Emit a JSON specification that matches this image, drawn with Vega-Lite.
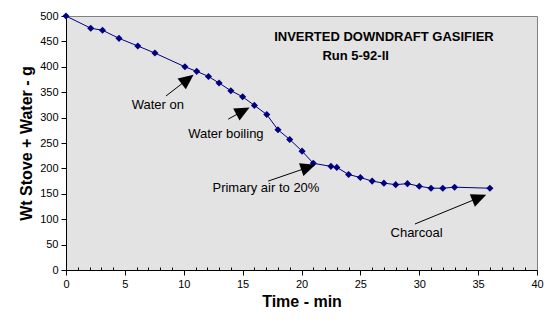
{
  "$schema": "https://vega.github.io/schema/vega-lite/v6.json",
  "width": 471,
  "height": 254,
  "autosize": {"type": "none"},
  "padding": {"left": 66, "top": 16, "right": 19, "bottom": 52},
  "background": "white",
  "config": {
    "font": "Liberation Sans",
    "view": {"fill": "#e3e3e3", "stroke": "#808080", "strokeWidth": 1}
  },
  "datasets": {
    "series": [
      {"t": 0, "w": 500}, {"t": 2.1, "w": 476}, {"t": 3.1, "w": 472}, {"t": 4.5, "w": 456},
      {"t": 6.1, "w": 441}, {"t": 7.55, "w": 427}, {"t": 10.1, "w": 400}, {"t": 11.1, "w": 391},
      {"t": 12.1, "w": 381}, {"t": 13, "w": 368}, {"t": 14, "w": 353}, {"t": 15, "w": 341},
      {"t": 16, "w": 324}, {"t": 17.05, "w": 306}, {"t": 18, "w": 276}, {"t": 19, "w": 257},
      {"t": 20.05, "w": 234}, {"t": 21, "w": 210}, {"t": 22.5, "w": 204}, {"t": 23, "w": 202},
      {"t": 24, "w": 188}, {"t": 25, "w": 182}, {"t": 26, "w": 175}, {"t": 27, "w": 171},
      {"t": 28, "w": 168}, {"t": 29, "w": 170}, {"t": 30, "w": 165}, {"t": 31, "w": 161},
      {"t": 32, "w": 161}, {"t": 33, "w": 163}, {"t": 36, "w": 161}
    ],
    "notes": [
      {"label": "Water on", "tx": 7.8, "ty": 325, "x1": 8.49, "y1": 342.5, "x2": 10.33, "y2": 375.4, "angle": 52.4},
      {"label": "Water boiling", "tx": 13.58, "ty": 268, "x1": 13.78, "y1": 297, "x2": 15.03, "y2": 313, "angle": 61.7},
      {"label": "Primary air to 20%", "tx": 16.98, "ty": 161, "x1": 17.17, "y1": 175, "x2": 20.58, "y2": 202.2, "angle": 71.1},
      {"label": "Charcoal", "tx": 29.77, "ty": 72.8, "x1": 29.63, "y1": 90.5, "x2": 35.1, "y2": 142.5, "angle": 67.8}
    ],
    "titles": [
      {"label": "INVERTED DOWNDRAFT GASIFIER", "tx": 27.0, "ty": 458.7},
      {"label": "Run 5-92-II", "tx": 24.6, "ty": 421}
    ]
  },
  "encoding": {
    "x": {
      "type": "quantitative",
      "scale": {"domain": [0, 40], "nice": false, "zero": false},
      "axis": {
        "title": "Time - min",
        "values": [0,1,2,3,4,5,6,7,8,9,10,11,12,13,14,15,16,17,18,19,20,21,22,23,24,25,26,27,28,29,30,31,32,33,34,35,36,37,38,39,40],
        "labelExpr": "datum.value % 5 === 0 ? datum.label : ''",
        "tickSize": {"condition": {"test": "datum.value % 5 === 0", "value": 5}, "value": -3},
        "grid": false,
        "domainColor": "black",
        "tickColor": "black",
        "labelColor": "black",
        "labelFontSize": 11,
        "labelPadding": 3,
        "labelFlush": false,
        "labelOverlap": false,
        "titleFontSize": 16,
        "titleFontWeight": "bold",
        "titleColor": "black",
        "titlePadding": 4
      }
    },
    "y": {
      "type": "quantitative",
      "scale": {"domain": [0, 500], "nice": false},
      "axis": {
        "title": "Wt Stove + Water - g",
        "values": [0,50,100,150,200,250,300,350,400,450,500],
        "grid": false,
        "domainColor": "black",
        "tickColor": "black",
        "tickSize": 5,
        "labelColor": "black",
        "labelFontSize": 11,
        "labelPadding": 3,
        "labelFlush": false,
        "labelOverlap": false,
        "titleFontSize": 16,
        "titleFontWeight": "bold",
        "titleColor": "black",
        "titlePadding": 5
      }
    }
  },
  "layer": [
    {
      "data": {"name": "series"},
      "mark": {"type": "line", "color": "#000080", "strokeWidth": 1},
      "encoding": {
        "x": {"field": "t"},
        "y": {"field": "w"}
      }
    },
    {
      "data": {"name": "series"},
      "mark": {"type": "point", "shape": "diamond", "filled": true, "color": "#000080", "size": 50, "opacity": 1},
      "encoding": {
        "x": {"field": "t"},
        "y": {"field": "w"}
      }
    },
    {
      "data": {"name": "notes"},
      "mark": {"type": "rule", "color": "black", "strokeWidth": 1},
      "encoding": {
        "x": {"field": "x1"},
        "y": {"field": "y1"},
        "x2": {"field": "x2"},
        "y2": {"field": "y2"}
      }
    },
    {
      "data": {"name": "notes"},
      "mark": {"type": "point", "shape": "M0,-1L0.9,1L-0.9,1Z", "filled": true, "color": "black", "size": 225, "opacity": 1},
      "encoding": {
        "x": {"field": "x2"},
        "y": {"field": "y2"},
        "angle": {"field": "angle", "type": "quantitative", "scale": null}
      }
    },
    {
      "data": {"name": "notes"},
      "mark": {"type": "text", "fontSize": 13, "color": "black", "align": "center", "baseline": "middle"},
      "encoding": {
        "x": {"field": "tx"},
        "y": {"field": "ty"},
        "text": {"field": "label"}
      }
    },
    {
      "data": {"name": "titles"},
      "mark": {"type": "text", "fontSize": 13, "fontWeight": "bold", "color": "black", "align": "center", "baseline": "middle"},
      "encoding": {
        "x": {"field": "tx"},
        "y": {"field": "ty"},
        "text": {"field": "label"}
      }
    }
  ]
}
